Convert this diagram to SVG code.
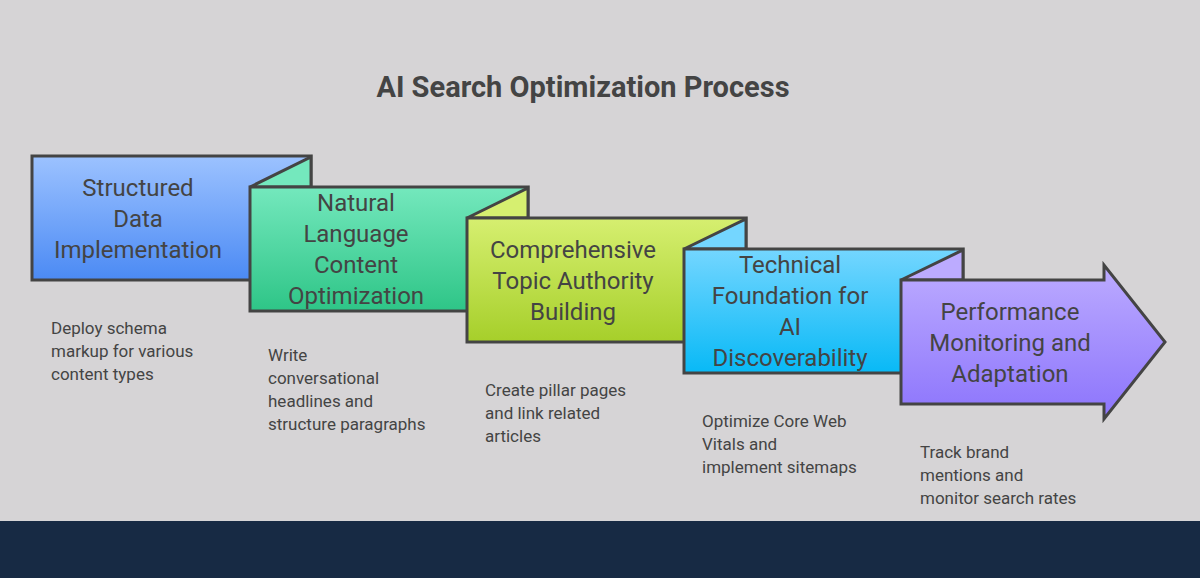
<svg xmlns="http://www.w3.org/2000/svg" width="1200" height="578" viewBox="0 0 1200 578">
<defs>
<linearGradient id="g1" x1="0" y1="0" x2="0" y2="1"><stop offset="0" stop-color="#9cc2ff"/><stop offset="1" stop-color="#4b8af4"/></linearGradient>
<linearGradient id="g2" x1="0" y1="0" x2="0" y2="1"><stop offset="0" stop-color="#74e8bd"/><stop offset="1" stop-color="#2ec587"/></linearGradient>
<linearGradient id="g3" x1="0" y1="0" x2="0" y2="1"><stop offset="0" stop-color="#d6ef70"/><stop offset="1" stop-color="#a6cf2a"/></linearGradient>
<linearGradient id="g4" x1="0" y1="0" x2="0" y2="1"><stop offset="0" stop-color="#74d6ff"/><stop offset="1" stop-color="#08b9f6"/></linearGradient>
<linearGradient id="g5" x1="0" y1="0" x2="0" y2="1"><stop offset="0" stop-color="#bcabff"/><stop offset="1" stop-color="#8c74fc"/></linearGradient>
</defs>
<style>
.s{stroke:#444;stroke-width:3;stroke-linejoin:miter}
.t{font-family:Roboto,"Liberation Sans",sans-serif;font-size:24px;fill:#444;text-anchor:middle}
.d{font-family:Roboto,"Liberation Sans",sans-serif;font-size:17px;fill:#444}
</style>
<rect width="1200" height="578" fill="#d6d4d6"/>
<rect y="521" width="1200" height="57" fill="#172a44"/>
<text x="583" y="97" font-family="Roboto,'Liberation Sans',sans-serif" font-size="29" font-weight="bold" fill="#444" text-anchor="middle">AI Search Optimization Process</text>
<g id="n1">
<rect class="s" x="32" y="156" width="279" height="124" fill="url(#g1)"/>
<polygon class="s" points="250,187 311,157 311,187" fill="#74e8bd"/>
<text class="t"><tspan x="138" y="196">Structured</tspan><tspan x="138" y="227">Data</tspan><tspan x="138" y="258">Implementation</tspan></text>
<text class="d"><tspan x="51" y="334">Deploy schema</tspan><tspan x="51" y="357">markup for various</tspan><tspan x="51" y="380">content types</tspan></text>
</g>
<g id="n2">
<rect class="s" x="250" y="187" width="278" height="124" fill="url(#g2)"/>
<polygon class="s" points="467,218 528,188 528,218" fill="#d6ef70"/>
<text class="t"><tspan x="356" y="211">Natural</tspan><tspan x="356" y="242">Language</tspan><tspan x="356" y="273">Content</tspan><tspan x="356" y="304">Optimization</tspan></text>
<text class="d"><tspan x="268" y="361">Write</tspan><tspan x="268" y="384">conversational</tspan><tspan x="268" y="407">headlines and</tspan><tspan x="268" y="430">structure paragraphs</tspan></text>
</g>
<g id="n3">
<rect class="s" x="467" y="218" width="279" height="124" fill="url(#g3)"/>
<polygon class="s" points="684,249 746,219 746,249" fill="#74d6ff"/>
<text class="t"><tspan x="573" y="258">Comprehensive</tspan><tspan x="573" y="289">Topic Authority</tspan><tspan x="573" y="320">Building</tspan></text>
<text class="d"><tspan x="485" y="396">Create pillar pages</tspan><tspan x="485" y="419">and link related</tspan><tspan x="485" y="442">articles</tspan></text>
</g>
<g id="n4">
<rect class="s" x="684" y="249" width="279" height="124" fill="url(#g4)"/>
<polygon class="s" points="901,280 963,250 963,280" fill="#bcabff"/>
<text class="t"><tspan x="790" y="273">Technical</tspan><tspan x="790" y="304">Foundation for</tspan><tspan x="790" y="335">AI</tspan><tspan x="790" y="366">Discoverability</tspan></text>
<text class="d"><tspan x="702" y="427">Optimize Core Web</tspan><tspan x="702" y="450">Vitals and</tspan><tspan x="702" y="473">implement sitemaps</tspan></text>
</g>
<g id="n5">
<polygon class="s" points="901,280 1104,280 1104,265 1165,342 1104,419 1104,404 901,404" fill="url(#g5)"/>
<text class="t"><tspan x="1010" y="320">Performance</tspan><tspan x="1010" y="351">Monitoring and</tspan><tspan x="1010" y="382">Adaptation</tspan></text>
<text class="d"><tspan x="920" y="458">Track brand</tspan><tspan x="920" y="481">mentions and</tspan><tspan x="920" y="504">monitor search rates</tspan></text>
</g>
<g id="connectors"></g>
</svg>
